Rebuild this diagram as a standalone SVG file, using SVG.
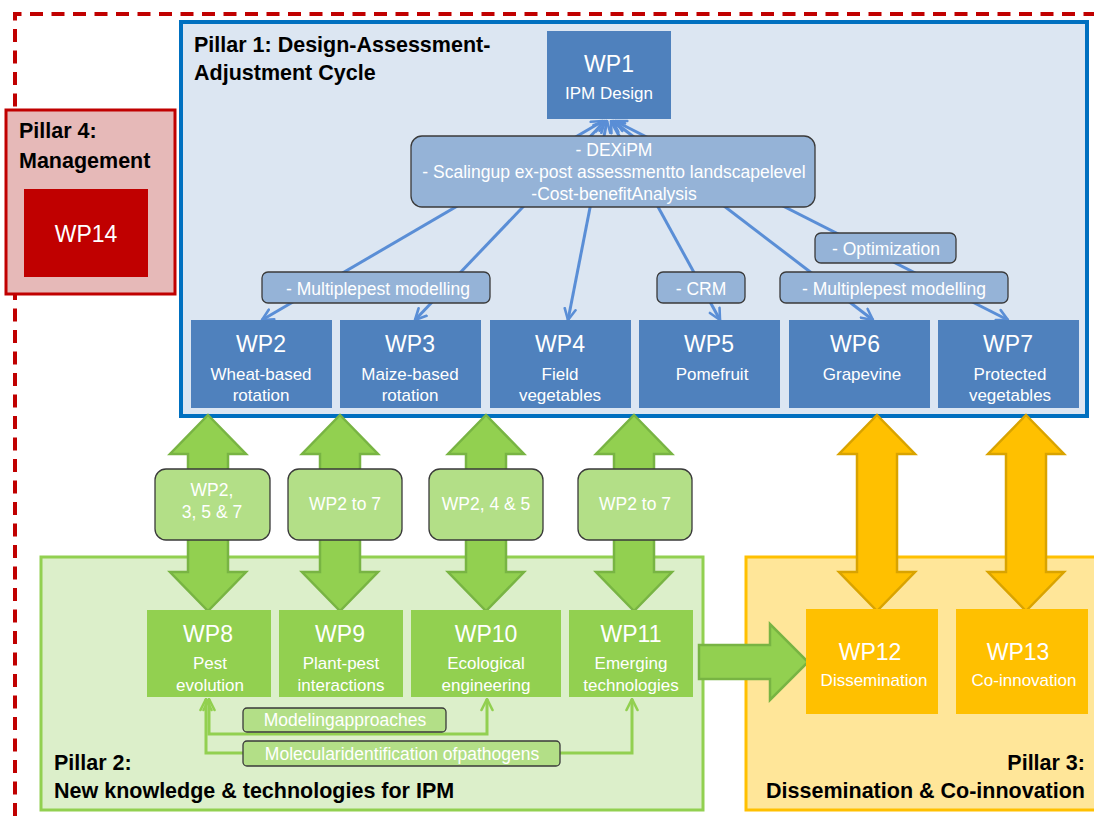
<svg xmlns="http://www.w3.org/2000/svg" xmlns:xlink="http://www.w3.org/1999/xlink" width="1094" height="816" viewBox="0 0 1094 816">
  <defs>
    <style>
      .t { font-family: "Liberation Sans", Arial, sans-serif; }
      .wt { fill: #FFFFFF; text-anchor: middle; }
      .big { font-size: 23px; }
      .sub { font-size: 17px; }
      .lab { font-size: 17.5px; }
      .title { font-weight: bold; font-size: 21.5px; fill: #000000; }
      .wpBlue { fill: #4F81BD; }
      .wpGreen { fill: #92D050; }
      .wpGold { fill: #FFC000; }
      .tagBlue { fill: #95B3D7; stroke: #3A3A3A; stroke-width: 1.3; }
      .tagGreen { fill: #B3DF87; stroke: #3A3A3A; stroke-width: 1.3; }
      .linkBlue { fill: none; stroke: #5A8ED6; stroke-width: 3; marker-start: url(#tipBlue); marker-end: url(#tipBlue); }
      .linkGreen { fill: none; stroke: #92D050; stroke-width: 3; marker-start: url(#tipGreen); marker-end: url(#tipGreen); }
      .blockGreen { fill: #92D050; stroke: #78B443; stroke-width: 2.5; }
      .blockGold { fill: #FFC000; stroke: #D9A300; stroke-width: 2.5; }
    </style>
    <marker id="tipBlue" viewBox="0 0 14 14" refX="12.5" refY="7" markerWidth="14" markerHeight="14" markerUnits="userSpaceOnUse" orient="auto-start-reverse">
      <path d="M1.5,1.5 L12.5,7 L1.5,12.5" fill="none" stroke="#5A8ED6" stroke-width="2.6" stroke-linecap="round" stroke-linejoin="round"/>
    </marker>
    <marker id="tipGreen" viewBox="0 0 14 14" refX="12.5" refY="7" markerWidth="14" markerHeight="14" markerUnits="userSpaceOnUse" orient="auto-start-reverse">
      <path d="M1.5,1.5 L12.5,7 L1.5,12.5" fill="none" stroke="#92D050" stroke-width="2.6" stroke-linecap="round" stroke-linejoin="round"/>
    </marker>
    <!-- vertical double-headed block arrow, top tip at origin -->
    <polygon id="dblArrow" points="0,0 38,39 20,39 20,157 38,157 0,196 -38,157 -20,157 -20,39 -38,39"/>
  </defs>

  <rect x="0" y="0" width="1094" height="816" fill="#FFFFFF"/>

  <!-- project frame -->
  <path d="M15,816 V14 H1094" fill="none" stroke="#C00000" stroke-width="4" stroke-dasharray="13 8.5"/>

  <!-- pillar containers -->
  <g id="pillar1">
    <rect x="181" y="22" width="906" height="394" fill="#DCE6F2" stroke="#0070C0" stroke-width="4"/>
    <text class="t title" x="194" y="52">Pillar 1: Design-Assessment-</text>
    <text class="t title" x="194" y="80">Adjustment Cycle</text>
  </g>
  <g id="pillar4">
    <rect x="6" y="110" width="169" height="184" fill="#E6B9B8" stroke="#C00000" stroke-width="3"/>
    <text class="t title" x="19" y="138">Pillar 4:</text>
    <text class="t title" x="19" y="168">Management</text>
  </g>
  <g id="pillar2">
    <rect x="41" y="557" width="662" height="253" fill="#DCEFCA" stroke="#92D050" stroke-width="3"/>
    <text class="t title" x="54" y="770">Pillar 2:</text>
    <text class="t title" x="54" y="798">New knowledge &amp; technologies for IPM</text>
  </g>
  <g id="pillar3">
    <rect x="746" y="557" width="352" height="253" fill="#FFE699" stroke="#FFC000" stroke-width="3"/>
    <text class="t title" x="1085" y="770" text-anchor="end">Pillar 3:</text>
    <text class="t title" x="1085" y="798" text-anchor="end">Dissemination &amp; Co-innovation</text>
  </g>

  <!-- connectors -->
  <g id="connectors">
    <line class="linkBlue" x1="603" y1="121" x2="262" y2="320"/>
    <line class="linkBlue" x1="605" y1="121" x2="415" y2="320"/>
    <line class="linkBlue" x1="607" y1="121" x2="568" y2="320"/>
    <line class="linkBlue" x1="611" y1="121" x2="720" y2="320"/>
    <line class="linkBlue" x1="613" y1="121" x2="873" y2="320"/>
    <line class="linkBlue" x1="615" y1="121" x2="1008" y2="320"/>

    <path class="linkGreen" d="M209,699 V734 H487 V699"/>
    <path class="linkGreen" d="M206,699 V753 H632 V699"/>

    <use xlink:href="#dblArrow" x="208" y="415" class="blockGreen"/>
    <use xlink:href="#dblArrow" x="340" y="415" class="blockGreen"/>
    <use xlink:href="#dblArrow" x="486" y="415" class="blockGreen"/>
    <use xlink:href="#dblArrow" x="634" y="415" class="blockGreen"/>
    <use xlink:href="#dblArrow" x="877" y="415" class="blockGold"/>
    <use xlink:href="#dblArrow" x="1026" y="415" class="blockGold"/>

    <polygon class="blockGreen" points="699,645 770,645 770,624 808,662 770,700 770,679 699,679"/>
  </g>

  <!-- pillar 1 work packages -->
  <g id="wp1">
    <rect class="wpBlue" x="547" y="31" width="124" height="88"/>
    <text class="t wt big" x="609" y="72">WP1</text>
    <text class="t wt sub" x="609" y="99">IPM Design</text>
  </g>
  <g id="tag-dexipm">
    <rect class="tagBlue" x="411" y="136" width="404" height="71" rx="11"/>
    <text class="t wt lab" x="614" y="156">- DEXiPM</text>
    <text class="t wt lab" x="614" y="178">- Scalingup ex-post assessmentto landscapelevel</text>
    <text class="t wt lab" x="614" y="200">-Cost-benefitAnalysis</text>
  </g>
  <g id="tag-multipest-left">
    <rect class="tagBlue" x="262" y="272" width="228" height="31" rx="6"/>
    <text class="t wt lab" x="378" y="295">- Multiplepest modelling</text>
  </g>
  <g id="tag-crm">
    <rect class="tagBlue" x="657" y="272" width="88" height="31" rx="6"/>
    <text class="t wt lab" x="701" y="295">- CRM</text>
  </g>
  <g id="tag-optimization">
    <rect class="tagBlue" x="815" y="233" width="141" height="30" rx="6"/>
    <text class="t wt lab" x="886" y="255">- Optimization</text>
  </g>
  <g id="tag-multipest-right">
    <rect class="tagBlue" x="780" y="272" width="228" height="31" rx="6"/>
    <text class="t wt lab" x="894" y="295">- Multiplepest modelling</text>
  </g>

  <g id="wp2">
    <rect class="wpBlue" x="191" y="320" width="141" height="88"/>
    <text class="t wt big" x="261" y="352">WP2</text>
    <text class="t wt sub" x="261" y="380">Wheat-based</text>
    <text class="t wt sub" x="261" y="401">rotation</text>
  </g>
  <g id="wp3">
    <rect class="wpBlue" x="340" y="320" width="141" height="88"/>
    <text class="t wt big" x="410" y="352">WP3</text>
    <text class="t wt sub" x="410" y="380">Maize-based</text>
    <text class="t wt sub" x="410" y="401">rotation</text>
  </g>
  <g id="wp4">
    <rect class="wpBlue" x="490" y="320" width="141" height="88"/>
    <text class="t wt big" x="560" y="352">WP4</text>
    <text class="t wt sub" x="560" y="380">Field</text>
    <text class="t wt sub" x="560" y="401">vegetables</text>
  </g>
  <g id="wp5">
    <rect class="wpBlue" x="639" y="320" width="141" height="88"/>
    <text class="t wt big" x="709" y="352">WP5</text>
    <text class="t wt sub" x="712" y="380">Pomefruit</text>
  </g>
  <g id="wp6">
    <rect class="wpBlue" x="789" y="320" width="141" height="88"/>
    <text class="t wt big" x="855" y="352">WP6</text>
    <text class="t wt sub" x="862" y="380">Grapevine</text>
  </g>
  <g id="wp7">
    <rect class="wpBlue" x="938" y="320" width="141" height="88"/>
    <text class="t wt big" x="1008" y="352">WP7</text>
    <text class="t wt sub" x="1010" y="380">Protected</text>
    <text class="t wt sub" x="1010" y="401">vegetables</text>
  </g>

  <!-- management -->
  <g id="wp14">
    <rect x="24" y="189" width="124" height="88" fill="#C00000"/>
    <text class="t wt big" x="86" y="242">WP14</text>
  </g>

  <!-- links between pillars 1 and 2 -->
  <g id="tag-wp2357">
    <rect class="tagGreen" x="155" y="469" width="115" height="71" rx="11"/>
    <text class="t wt lab" x="212" y="496">WP2,</text>
    <text class="t wt lab" x="212" y="518">3, 5 &amp; 7</text>
  </g>
  <g id="tag-wp2to7-a">
    <rect class="tagGreen" x="288" y="469" width="114" height="71" rx="11"/>
    <text class="t wt lab" x="345" y="510">WP2 to 7</text>
  </g>
  <g id="tag-wp245">
    <rect class="tagGreen" x="429" y="469" width="114" height="71" rx="11"/>
    <text class="t wt lab" x="486" y="510">WP2, 4 &amp; 5</text>
  </g>
  <g id="tag-wp2to7-b">
    <rect class="tagGreen" x="578" y="469" width="114" height="71" rx="11"/>
    <text class="t wt lab" x="635" y="510">WP2 to 7</text>
  </g>

  <!-- pillar 2 work packages -->
  <g id="wp8">
    <rect class="wpGreen" x="147" y="610" width="124" height="87"/>
    <text class="t wt big" x="208" y="642">WP8</text>
    <text class="t wt sub" x="210" y="669">Pest</text>
    <text class="t wt sub" x="210" y="691">evolution</text>
  </g>
  <g id="wp9">
    <rect class="wpGreen" x="279" y="610" width="124" height="87"/>
    <text class="t wt big" x="340" y="642">WP9</text>
    <text class="t wt sub" x="341" y="669">Plant-pest</text>
    <text class="t wt sub" x="341" y="691">interactions</text>
  </g>
  <g id="wp10">
    <rect class="wpGreen" x="411" y="610" width="150" height="87"/>
    <text class="t wt big" x="486" y="642">WP10</text>
    <text class="t wt sub" x="486" y="669">Ecological</text>
    <text class="t wt sub" x="486" y="691">engineering</text>
  </g>
  <g id="wp11">
    <rect class="wpGreen" x="569" y="610" width="124" height="87"/>
    <text class="t wt big" x="631" y="642">WP11</text>
    <text class="t wt sub" x="631" y="669">Emerging</text>
    <text class="t wt sub" x="631" y="691">technologies</text>
  </g>
  <g id="tag-modeling">
    <rect class="tagGreen" x="243" y="708" width="203" height="24" rx="4"/>
    <text class="t wt lab" x="345" y="726">Modelingapproaches</text>
  </g>
  <g id="tag-molecular">
    <rect class="tagGreen" x="243" y="741" width="317" height="25" rx="4"/>
    <text class="t wt lab" x="402" y="760">Molecularidentification ofpathogens</text>
  </g>

  <!-- pillar 3 work packages -->
  <g id="wp12">
    <rect class="wpGold" x="806" y="609" width="132" height="105"/>
    <text class="t wt big" x="870" y="660">WP12</text>
    <text class="t wt sub" x="874" y="686">Dissemination</text>
  </g>
  <g id="wp13">
    <rect class="wpGold" x="956" y="609" width="132" height="105"/>
    <text class="t wt big" x="1018" y="660">WP13</text>
    <text class="t wt sub" x="1024" y="686">Co-innovation</text>
  </g>
</svg>
